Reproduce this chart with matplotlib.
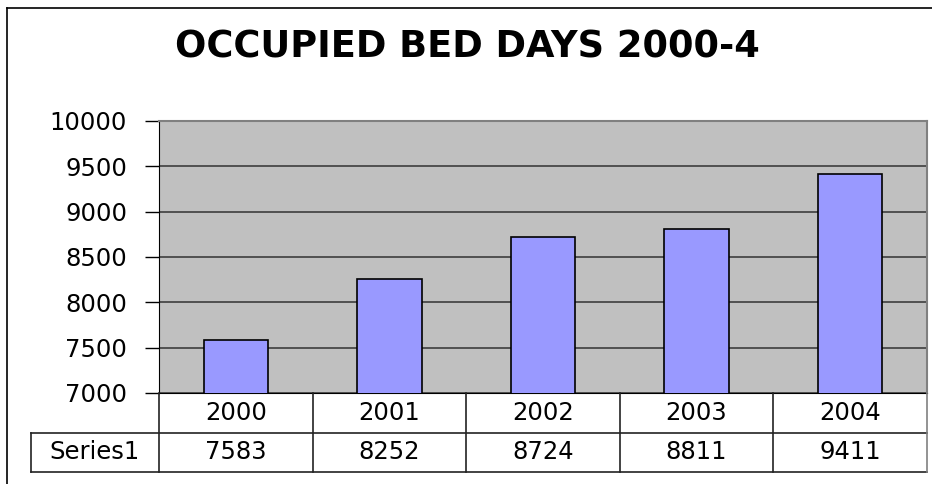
import matplotlib.pyplot as plt
import numpy as np
from matplotlib.lines import Line2D

# wider glyphs come closer to the stretched Arial of the original
plt.rcParams['font.family'] = ['DejaVu Sans']

# data
years = ["2000", "2001", "2002", "2003", "2004"]
bed_days = [7583, 8252, 8724, 8811, 9411]
series_name = "Series1"
title = "OCCUPIED BED DAYS 2000-4"

W, H = 932, 484
fig = plt.figure(figsize=(W / 100, H / 100), dpi=100)

# outer chart frame (left + top only visible)
fig.add_artist(Line2D([7 / W, 7 / W], [0, 1 - 8 / H], color="black", lw=1.2))
fig.add_artist(Line2D([7 / W, 1], [1 - 8 / H, 1 - 8 / H], color="black", lw=1.2))

fig.text(467 / W, 1 - 47 / H, title, ha="center", va="center",
         fontsize=26.5, fontweight="bold")

left, right = 159, 927
top, bottom = 121, 393
ax = fig.add_axes([left / W, 1 - bottom / H, (right - left) / W, (bottom - top) / H])
ax.set_facecolor("#C0C0C0")

x = np.arange(len(years))
ax.bar(x, bed_days, width=0.42, color="#9999FF", edgecolor="black", linewidth=1.2,
       zorder=3)
ax.set_xlim(-0.5, len(years) - 0.5)
ax.set_ylim(7000, 10000)
ax.set_yticks(np.arange(7000, 10001, 500))
ax.tick_params(axis="y", labelsize=17.5, length=10, width=1, direction="out", pad=13)
ax.set_xticks([])
ax.yaxis.grid(True, color="#333333", lw=1.1, zorder=1)
ax.set_axisbelow(True)
for side in ["top", "right"]:
    ax.spines[side].set_color("#808080")
    ax.spines[side].set_linewidth(1.5)
ax.spines["left"].set_color("black")
ax.spines["bottom"].set_color("black")

# data table below the plot
tb_bottom = 472
tax = fig.add_axes([left / W, 1 - tb_bottom / H, (right - left) / W, (tb_bottom - bottom) / H])
tax.set_xlim(-0.5, len(years) - 0.5)
tax.set_ylim(0, 2)
tax.axis("off")
col_w = (right - left) / len(years)
lab_left = -0.5 - (left - 31) / col_w
lc = "#222222"
tax.plot([lab_left, len(years) - 0.5], [1, 1], color=lc, lw=1.2, clip_on=False)
tax.plot([lab_left, len(years) - 0.5], [0, 0], color=lc, lw=1.2, clip_on=False)
tax.plot([lab_left, lab_left], [0, 1], color=lc, lw=1.2, clip_on=False)
for b in np.arange(len(years) + 1) - 0.5:
    tax.plot([b, b], [0, 2], color=lc if b < len(years) - 0.5 else "#808080",
             lw=1.2, clip_on=False)
for i, (yr, v) in enumerate(zip(years, bed_days)):
    tax.text(i, 1.5, yr, ha="center", va="center", fontsize=17.5)
    tax.text(i, 0.5, str(v), ha="center", va="center", fontsize=17.5)
tax.text((lab_left - 0.5) / 2, 0.5, series_name, ha="center", va="center", fontsize=17.5)

fig.savefig("out.png", dpi=100)
